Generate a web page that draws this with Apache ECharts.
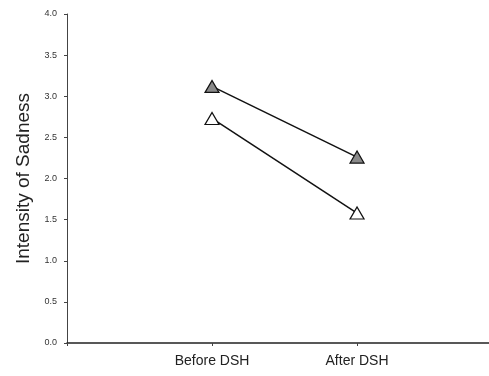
<!DOCTYPE html>
<html>
<head>
<meta charset="utf-8">
<script src="https://cdn.jsdelivr.net/npm/echarts@6/dist/echarts.min.js"></script>
<style>
  html, body { margin: 0; padding: 0; background: #fff; }
  #chart { width: 489px; height: 376px; }
</style>
</head>
<body>
<div id="chart"></div>
<script>
// categories on the x axis (placed at positions 1, 2)
const categories = ["Before DSH", "After DSH"];
// filled (grey) triangles
const filledValues = [3.12, 2.26];
// open (white) triangles
const openValues = [2.73, 1.58];
const yTicks = [0, 0.5, 1, 1.5, 2, 2.5, 3, 3.5, 4];

const chart = echarts.init(document.getElementById("chart"));

const toPoints = (vals) => vals.map((v, i) => [i + 1, v]);

const option = {
  backgroundColor: "#fff",
  animation: false,
  textStyle: { fontFamily: "Liberation Sans, Arial, sans-serif" },
  grid: { left: 67, right: 0, top: 14, bottom: 33, containLabel: false },
  xAxis: {
    type: "value",
    min: 0,
    max: 2.91,
    interval: 1,
    splitLine: { show: false },
    axisLine: { show: true, lineStyle: { color: "#222", width: 1.5 } },
    axisTick: { show: true, length: 3, lineStyle: { color: "#444" } },
    axisLabel: {
      margin: 11,
      fontSize: 14,
      color: "#222",
      formatter: (v) => categories[v - 1] || "",
      showMaxLabel: false
    }
  },
  yAxis: {
    type: "value",
    min: yTicks[0],
    max: yTicks[yTicks.length - 1],
    interval: 0.5,
    name: "Intensity of Sadness",
    nameLocation: "middle",
    nameGap: 30,
    nameTextStyle: { fontSize: 19, color: "#222" },
    splitLine: { show: false },
    axisLine: { show: true, lineStyle: { color: "#444", width: 1 } },
    axisTick: { show: true, length: 3, lineStyle: { color: "#444" } },
    axisLabel: {
      margin: 10,
      fontSize: 9,
      color: "#333",
      formatter: (v) => v.toFixed(1)
    }
  },
  series: [
    {
      type: "line",
      data: toPoints(filledValues),
      symbol: "triangle",
      symbolSize: [14, 12],
      lineStyle: { color: "#111", width: 1.5 },
      itemStyle: { color: "#8a8a8a", borderColor: "#111", borderWidth: 1.2 }
    },
    {
      type: "line",
      data: toPoints(openValues),
      symbol: "triangle",
      symbolSize: [14, 12],
      lineStyle: { color: "#111", width: 1.5 },
      itemStyle: { color: "#fff", borderColor: "#111", borderWidth: 1.2 }
    }
  ]
};

chart.setOption(option);
</script>
</body>
</html>
